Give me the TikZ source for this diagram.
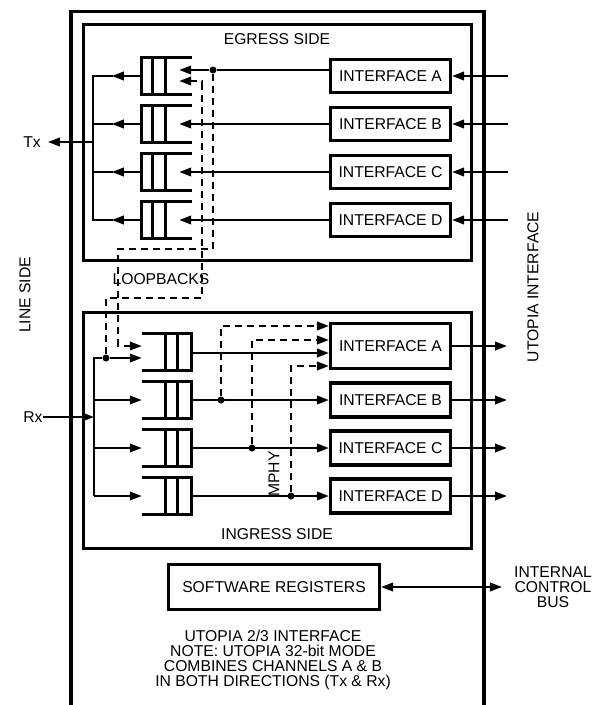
\documentclass[tikz,border=0pt]{standalone}
\usepackage{fontspec}
\setmainfont{Liberation Sans}
\usetikzlibrary{arrows.meta}
\begin{document}
\begin{tikzpicture}[x=1pt,y=-1pt,
  every node/.style={font=\fontsize{15.7}{15}\selectfont, inner sep=0pt},
  box/.style={draw, line width=3.2pt, minimum width=120pt, align=center},
  bigbox/.style={draw, line width=3.2pt, minimum width=388pt, minimum height=236pt},
  fifo/.style={minimum width=50pt, minimum height=36pt},
  fifoline/.style={line width=2.8pt},
  conn/.style={line width=2.2pt},
  tip/.style={-{Triangle[length=12pt,width=8.5pt]}},
  arr/.style={conn, tip},
  dsh/.style={conn, dash pattern=on 7pt off 5pt},
  dot/.style={circle, fill, minimum size=7pt, inner sep=0pt}
]
\useasboundingbox (0,0) rectangle (593,705);

% outer frame (open at the bottom)
\draw[line width=3.2pt] (71,705) -- (71,11.5) -- (484,11.5) -- (484,705);

% big boxes
\node[bigbox] (egress) at (277.5,142.5) {};
\node[bigbox] (ingress) at (277.5,430.5) {};
\node (egl) at (277,39) {EGRESS SIDE};
\node (ingl) at (277,534) {INGRESS SIDE};

% ---------------- EGRESS ----------------
\foreach \n/\y in {A/76,B/124,C/172,D/220}{
  \node[box, minimum height=33pt] (eI\n) at (390.5,\y) {INTERFACE \n};
  \node[fifo] (eF\n) at (167,\y) {};
  \draw[fifoline] (eF\n.north east) -- (eF\n.north west) -- (eF\n.south west) -- (eF\n.south east);
  \draw[fifoline] ([xshift=11pt]eF\n.north west) -- ([xshift=11pt]eF\n.south west);
  \draw[fifoline] ([xshift=24pt]eF\n.north west) -- ([xshift=24pt]eF\n.south west);
  \coordinate (inE\n) at (508,\y);
  \draw[arr] (inE\n) -- (eI\n.east);
  \draw[arr] (eF\n.west) -- ([xshift=-30pt]eF\n.west);
}
\foreach \n in {B,C,D}{
  \draw[arr] (eI\n.west) -- ([xshift=-13pt]eF\n.east);
}
% row A with loopback tap
\node[dot] (lbA) at (213,70) {};
\draw[conn] ([yshift=6pt]eIA.west) -- (lbA);
\draw[arr] (lbA) -- ([xshift=-13pt,yshift=6pt]eFA.east);
% Tx bus
\coordinate (ebTop) at (93,76);
\coordinate (ebBot) at (93,220);
\coordinate (txb) at (93,142);
\draw[conn] (113,76) -- (ebTop) -- (ebBot) -- (113,220);
\draw[conn] (113,124) -- (93,124);
\draw[conn] (113,172) -- (93,172);
\node (tx) at (32,142) {Tx};
\draw[arr] (txb) -- ([xshift=7pt]tx.east);

% ---------------- INGRESS ----------------
\foreach \n/\y/\h in {A/346/45,B/400/34,C/448/34,D/496/34}{
  \node[box, minimum height=\h pt] (iI\n) at (390.5,\y) {INTERFACE \n};
  \coordinate (outI\n) at (507,\y);
  \draw[arr] (iI\n.east) -- (outI\n);
}
\foreach \n/\y in {A/352,B/400,C/448,D/496}{
  \node[fifo, minimum width=49pt] (iF\n) at (166.5,\y) {};
  \draw[fifoline] (iF\n.north west) -- (iF\n.north east) -- (iF\n.south east) -- (iF\n.south west);
  \draw[fifoline] ([xshift=24pt]iF\n.north west) -- ([xshift=24pt]iF\n.south west);
  \draw[fifoline] ([xshift=36pt]iF\n.north west) -- ([xshift=36pt]iF\n.south west);
}
\foreach \n in {B,C,D}{
  \draw[arr] (iF\n.east) -- (iI\n.west);
}
\draw[arr] ([yshift=-1pt]iFA.east) -- ([yshift=-7pt]iIA.west);

% Rx bus
\node (rx) at (33,417) {Rx};
\coordinate (ibTop) at (94,358);
\coordinate (ibBot) at (94,496);
\coordinate (rxb) at (94,417);
\node[dot] (lbB) at (106,358) {};
\draw[arr] (rx.east) -- (rxb);
\draw[conn] (lbB) -- (ibTop) -- (ibBot);
\draw[arr] (lbB) -- ([yshift=-6pt]iFA.west);
\draw[arr] (ibBot) -- (iFD.west);
\draw[arr] (94,400) -- (iFB.west);
\draw[arr] (94,448) -- (iFC.west);

% loopbacks
\draw[dsh] (lbA) -- (213,249) -- (118,249) -- (118,340);
\draw[dsh, tip] (118,340) |- ([yshift=6pt]iFA.west);
\draw[dsh] (lbB) -- (106,298) -- (202,298) -- (202,88);
\draw[dsh, tip] (202,88) |- ([xshift=-13pt,yshift=-5pt]eFA.east);
\node (lbl) at (161,279) {LOOPBACKS};

% MPHY
\node[dot] (mB) at (221,400) {};
\node[dot] (mC) at (252,448) {};
\node[dot] (mD) at (291,496) {};
\draw[dsh, tip] (mB) |- ([yshift=20pt]iIA.west);
\draw[dsh, tip] (mC) |- ([yshift=6pt]iIA.west);
\draw[dsh, tip] (mD) |- ([yshift=-20pt]iIA.west);
\node[rotate=90] (mphy) at (274,474) {MPHY};

% software registers
\node[box, minimum width=211pt, minimum height=45pt] (sw) at (274,587) {SOFTWARE REGISTERS};
\node[align=center] (icb) at (553,587) {INTERNAL\\CONTROL\\BUS};
\draw[conn, {Triangle[length=12pt,width=8.5pt]}-{Triangle[length=12pt,width=8.5pt]}] (sw.east) -- ([xshift=-12pt]icb.west);

% side labels and note
\node[rotate=90] (ut) at (533,287) {UTOPIA INTERFACE};
\node[rotate=90] (ls) at (25,295) {LINE SIDE};
\node[align=center] (note) at (273,660) {UTOPIA 2/3 INTERFACE\\NOTE: UTOPIA 32-bit MODE\\COMBINES CHANNELS A \& B\\IN BOTH DIRECTIONS (Tx \& Rx)};
\end{tikzpicture}
\end{document}
